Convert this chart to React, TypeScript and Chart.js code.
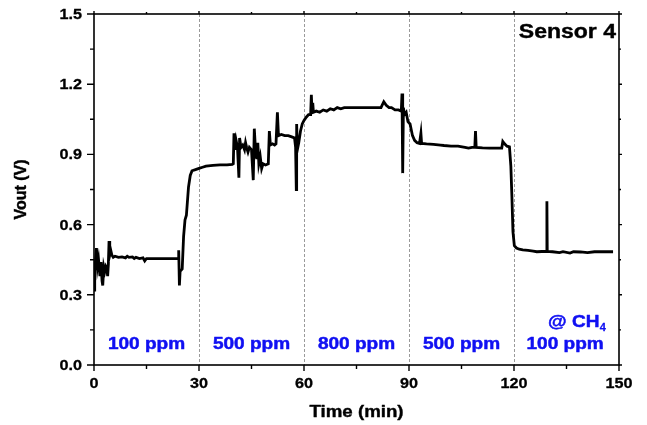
import React, { useEffect, useRef } from "react";
import { Chart, registerables } from "chart.js";

Chart.register(...registerables);

// Time (min) and Vout (V)
const timeMin: number[] = [
  0, 0.2, 0.4, 0.7, 1.0, 1.3, 1.7, 2.0, 2.3, 2.5, 2.8, 3.1, 3.4, 3.7, 3.9, 4.1, 4.3, 4.5, 4.8, 5.1, 5.5,
  6.0, 7, 8, 9, 9.5, 10, 11, 11.5, 12, 13, 14, 14.5, 15, 16, 18, 20, 22, 24.0, 24.2, 24.4, 24.6, 25.2, 25.6,
  26.0, 26.4, 27.0, 27.5, 28.0, 29.0, 30, 31, 32, 34, 36, 38, 39.5,
  39.8, 40.0, 40.3, 40.6, 41.0, 41.4, 41.6, 42.0, 42.5, 43.0, 43.3, 43.6, 44.0, 44.4, 45.0, 45.5, 45.8,
  46.1, 46.5, 46.8, 47.1, 47.5, 47.9, 48.3, 49.0, 49.8, 50.1, 50.4, 51.0, 51.6, 52.0, 52.4, 52.7, 53.5,
  54.5, 55.5, 56.5, 57.3, 57.6, 57.8, 57.9, 58.1, 58.5, 59.0, 59.5, 60.0, 60.7, 61.3, 61.9, 62.1, 62.3,
  62.5, 62.7, 63.5, 64.5, 65.5, 66.5, 67.5, 68.5, 69.5, 70.5, 71.5, 72.5, 74, 76, 78, 80, 82, 82.8, 83.5,
  84.3, 85, 86, 87, 87.8, 88.0, 88.2, 88.4, 88.7, 89.2, 89.7, 90.3, 91.0, 91.6, 92.3, 93.0, 93.4, 93.6,
  95, 97, 99, 100, 102, 104, 106, 107, 108, 108.8, 109, 109.2, 111, 113, 115, 116.5, 116.8, 117.3, 118.0,
  118.7, 119.1, 119.4, 119.7, 120.1, 120.7, 121.5, 122.5, 124, 125.5, 126.5, 128, 129.3, 129.4, 129.5,
  131, 133, 134, 136, 137, 139, 141, 143, 145, 148.3,
];
const voutV: number[] = [
  0.32, 0.40, 0.44, 0.50, 0.42, 0.45, 0.38, 0.44, 0.36, 0.34, 0.42, 0.40, 0.42, 0.41, 0.38, 0.43, 0.53, 0.47, 0.49, 0.47, 0.46,
  0.465, 0.46, 0.462, 0.458, 0.465, 0.46, 0.462, 0.455, 0.46, 0.455, 0.458, 0.445, 0.455, 0.455, 0.455, 0.455, 0.455, 0.455, 0.49, 0.34, 0.40, 0.41, 0.55,
  0.62, 0.64, 0.76, 0.81, 0.83, 0.835, 0.84, 0.845, 0.85, 0.853, 0.855, 0.855, 0.857,
  0.86, 0.99, 0.92, 0.96, 0.93, 0.80, 0.97, 0.93, 0.94, 0.92, 0.95, 0.93, 0.91, 0.93, 0.92, 0.79, 1.01,
  0.93, 0.88, 0.95, 0.86, 0.89, 0.84, 0.86, 0.855, 0.86, 1.0, 0.94, 0.945, 0.94, 0.945, 1.08, 0.98, 0.985,
  0.98, 0.98, 0.975, 0.97, 0.93, 0.75, 1.03, 0.92, 0.95, 1.0, 1.03, 1.045, 1.06, 1.07, 1.07, 1.155, 1.08,
  1.12, 1.08, 1.085, 1.08, 1.09, 1.085, 1.095, 1.09, 1.1, 1.095, 1.1, 1.1, 1.1, 1.1, 1.1, 1.1, 1.1, 1.125, 1.11,
  1.1, 1.1, 1.09, 1.09, 1.085, 1.16, 0.82, 1.1, 1.07, 1.08, 1.04, 1.03, 0.98, 0.96, 0.95, 0.947, 0.99, 0.947,
  0.945, 0.943, 0.94, 0.938, 0.935, 0.935, 0.93, 0.927, 0.93, 0.93, 1.0, 0.93, 0.928, 0.927, 0.927, 0.927, 0.955, 0.945, 0.935,
  0.932, 0.85, 0.72, 0.57, 0.51, 0.5, 0.495, 0.492, 0.49, 0.487, 0.484, 0.485, 0.485, 0.70, 0.485,
  0.484, 0.48, 0.484, 0.478, 0.484, 0.483, 0.48, 0.484, 0.484, 0.484,
];

const xTickValues: number[] = [0, 30, 60, 90, 120, 150];
const xMinorValues: number[] = [15, 45, 75, 105, 135];
const yTickValues: number[] = [0, 0.3, 0.6, 0.9, 1.2, 1.5];
const yMinorValues: number[] = [0.15, 0.45, 0.75, 1.05, 1.35];
const dividerTimes: number[] = [30, 60, 90, 120];
const concLabels: string[] = ["100 ppm", "500 ppm", "800 ppm", "500 ppm", "100 ppm"];
const concCenters: number[] = [15, 45, 75, 105, 134.6];

const BLUE = "#1010f2";
const FONT = "'Liberation Sans', Arimo, sans-serif";

function drawText(
  ctx: CanvasRenderingContext2D, text: string, x: number, y: number,
  align: CanvasTextAlign, font: string, color: string, sx = 1.2, heavy = 0,
) {
  ctx.save();
  ctx.translate(x, y);
  ctx.scale(sx, 1);
  ctx.font = font;
  ctx.fillStyle = color;
  ctx.textAlign = align;
  ctx.textBaseline = "alphabetic";
  ctx.fillText(text, 0, 0);
  if (heavy > 0) {
    ctx.strokeStyle = color;
    ctx.lineWidth = heavy;
    ctx.lineJoin = "round";
    ctx.strokeText(text, 0, 0);
  }
  ctx.restore();
}

const decorPlugin = {
  id: "decor",
  beforeDatasetsDraw(chart: any) {
    const { ctx, chartArea: a, scales } = chart;
    ctx.save();
    ctx.strokeStyle = "#9a9a9a";
    ctx.lineWidth = 1;
    ctx.setLineDash([3, 2]);
    dividerTimes.forEach((t) => {
      const x = Math.round(scales.x.getPixelForValue(t)) + 0.5;
      ctx.beginPath();
      ctx.moveTo(x, a.top);
      ctx.lineTo(x, a.bottom);
      ctx.stroke();
    });
    ctx.restore();
  },
  afterDraw(chart: any) {
    const { ctx, chartArea: a, scales } = chart;
    const xs = scales.x, ys = scales.y;
    ctx.save();
    ctx.strokeStyle = "#000";
    ctx.lineWidth = 1.6;
    ctx.strokeRect(a.left, a.top, a.right - a.left, a.bottom - a.top);
    ctx.lineWidth = 1.4;
    ctx.beginPath();
    xTickValues.forEach((v) => {
      const x = xs.getPixelForValue(v);
      ctx.moveTo(x, a.bottom); ctx.lineTo(x, a.bottom + 6);
      ctx.moveTo(x, a.top); ctx.lineTo(x, a.top - 3);
    });
    xMinorValues.forEach((v) => {
      const x = xs.getPixelForValue(v);
      ctx.moveTo(x, a.bottom); ctx.lineTo(x, a.bottom + 4);
      ctx.moveTo(x, a.top); ctx.lineTo(x, a.top - 2);
    });
    yTickValues.forEach((v) => {
      const y = ys.getPixelForValue(v);
      ctx.moveTo(a.left, y); ctx.lineTo(a.left - 7, y);
      ctx.moveTo(a.right, y); ctx.lineTo(a.right + 3, y);
    });
    yMinorValues.forEach((v) => {
      const y = ys.getPixelForValue(v);
      ctx.moveTo(a.left, y); ctx.lineTo(a.left - 4, y);
      ctx.moveTo(a.right, y); ctx.lineTo(a.right + 2, y);
    });
    ctx.stroke();
    ctx.restore();

    const tickFont = `bold 15px ${FONT}`;
    xTickValues.forEach((v) => {
      drawText(ctx, String(v), xs.getPixelForValue(v), a.bottom + 23, "center", tickFont, "#000", 1.08, 0.3);
    });
    yTickValues.forEach((v) => {
      drawText(ctx, v.toFixed(1), a.left - 12, ys.getPixelForValue(v) + 5, "right", tickFont, "#000", 1.08, 0.3);
    });

    drawText(ctx, "Time (min)", (a.left + a.right) / 2, 417, "center", `bold 17px ${FONT}`, "#000", 1.1, 0.4);
    ctx.save();
    ctx.translate(26, (a.top + a.bottom) / 2);
    ctx.rotate(-Math.PI / 2);
    ctx.font = `bold 16px ${FONT}`;
    ctx.fillStyle = "#000";
    ctx.textAlign = "center";
    ctx.textBaseline = "alphabetic";
    ctx.fillText("Vout (V)", 0, 0);
    ctx.strokeStyle = "#000";
    ctx.lineWidth = 0.4;
    ctx.strokeText("Vout (V)", 0, 0);
    ctx.restore();

    drawText(ctx, "Sensor 4", a.right - 3, 38, "right", `bold 20px ${FONT}`, "#000", 1.15, 0.4);

    const concFont = `bold 17px ${FONT}`;
    concLabels.forEach((lab, i) => {
      drawText(ctx, lab, xs.getPixelForValue(concCenters[i]), 349, "center", concFont, BLUE, 1.12, 0.5);
    });
    drawText(ctx, "@ CH", xs.getPixelForValue(144.4), 327, "right", concFont, BLUE, 1.12, 0.5);
    drawText(ctx, "4", xs.getPixelForValue(144.5), 331, "left", `bold 10px ${FONT}`, BLUE, 1.1, 0.3);
  },
};

export default function App() {
  const ref = useRef<HTMLCanvasElement | null>(null);
  useEffect(() => {
    if (!ref.current) return;
    const points = timeMin.map((t, i) => ({ x: t, y: voutV[i] }));
    const chart = new Chart(ref.current, {
      type: "line",
      data: {
        datasets: [
          {
            data: points,
            borderColor: "#000",
            borderWidth: 2.8,
            pointRadius: 0,
            tension: 0,
            fill: false,
          },
        ],
      },
      options: {
        animation: false,
        responsive: false,
        maintainAspectRatio: false,
        layout: { padding: { top: 14, right: 28, left: 0, bottom: 0 } },
        plugins: { legend: { display: false }, tooltip: { enabled: false } },
        scales: {
          x: {
            type: "linear",
            min: 0,
            max: 150,
            grid: { display: false, drawTicks: false },
            border: { display: false },
            ticks: { display: false, stepSize: 30 },
            afterFit: (s: any) => { s.height = 60; },
          },
          y: {
            type: "linear",
            min: 0,
            max: 1.5,
            grid: { display: false, drawTicks: false },
            border: { display: false },
            ticks: { display: false, stepSize: 0.3 },
            afterFit: (s: any) => { s.width = 94; },
          },
        },
      },
      plugins: [decorPlugin],
    });
    return () => chart.destroy();
  }, []);
  return (
    <div style={{ position: "fixed", left: 0, top: 0, width: 647, height: 425, background: "#fff" }}>
      <canvas ref={ref} width={647} height={425} style={{ width: 647, height: 425, display: "block" }} />
    </div>
  );
}
